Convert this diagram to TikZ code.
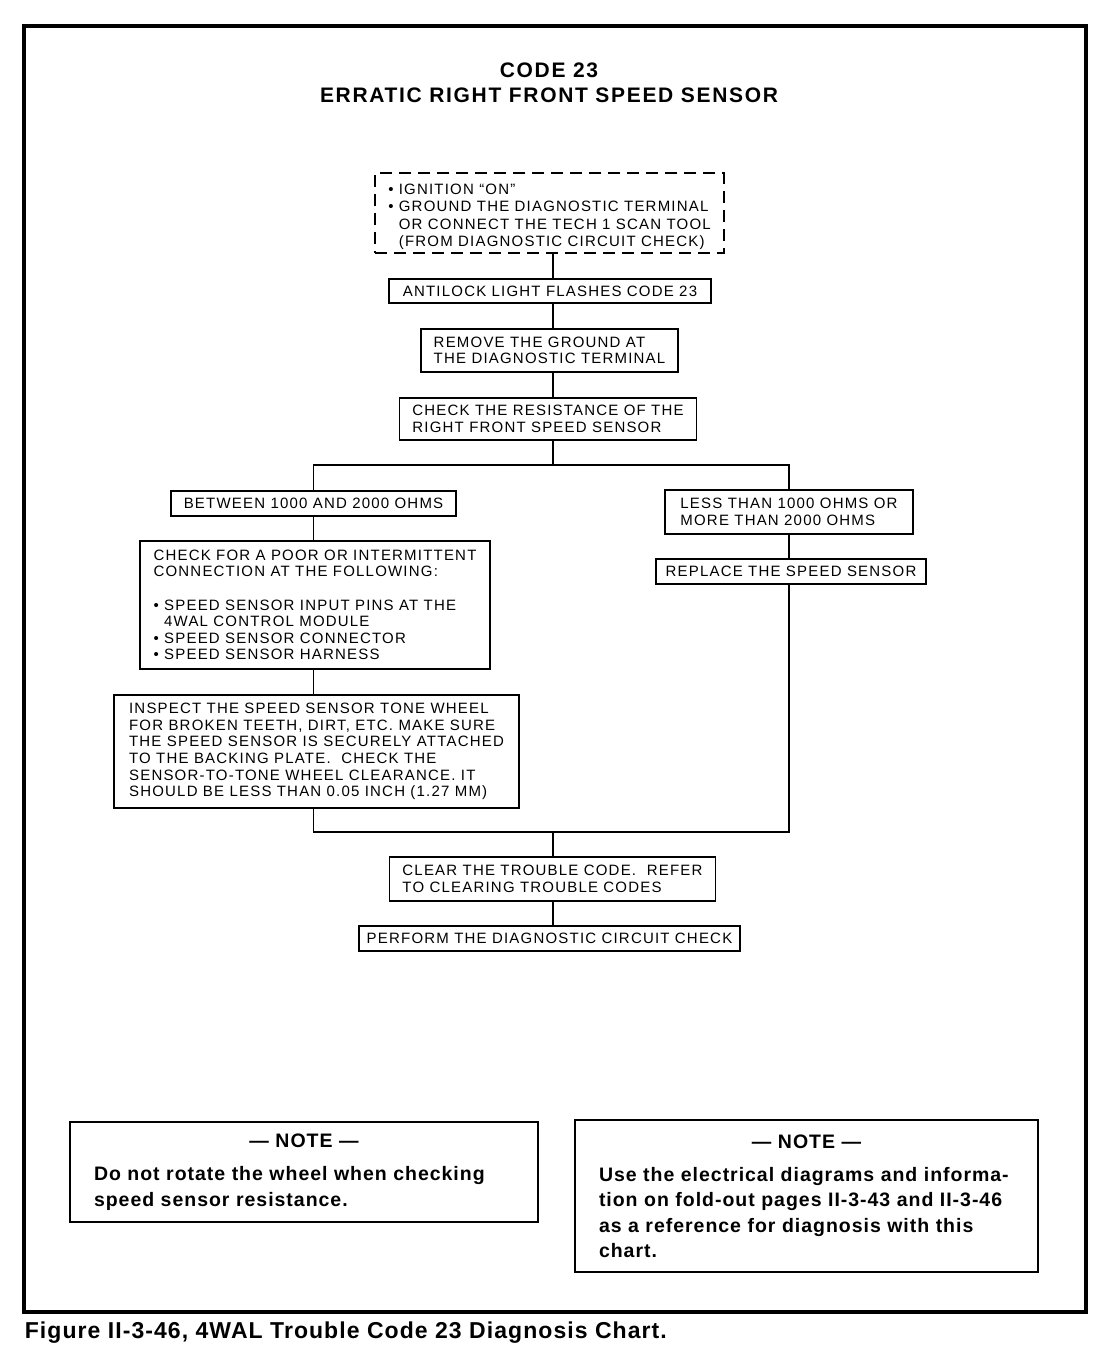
\documentclass[tikz,border=0pt]{standalone}
\usepackage{fontspec}
\setmainfont{Liberation Sans}
\newfontfamily\chartfont[LetterSpace=8]{Liberation Sans}
\newfontfamily\notefont[LetterSpace=5]{Liberation Sans}
\newfontfamily\titlefont[LetterSpace=8]{Liberation Sans}
\newfontfamily\capfont[LetterSpace=4.6]{Liberation Sans}
\usepackage{tikz}
\usetikzlibrary{calc}
\tikzset{
	box/.style =
    {
			draw,
			line width = 1.8pt,
			align = left,
			inner xsep = 13pt,
			inner ysep = 3pt,
			font = \chartfont\fontsize{15}{16.6}\selectfont
    }
}

\begin{document}
\begin{tikzpicture}[x=1pt, y=-1pt, line width=1.8pt]
    \useasboundingbox (0,0) rectangle (1104,1360);
    \tikzset{note box/.style={draw,line width=1.5pt,align=left,inner xsep=24pt,font=\notefont\bfseries\fontsize{19.5}{25.3}\selectfont}}
    % Frame and title
    \draw [line width=3.5pt] (24,26) rectangle (1086,1312);
    \node (title) at (549,83) [align=center, font=\titlefont\bfseries\fontsize{21}{24.5}\selectfont]
        {CODE 23\\ERRATIC RIGHT FRONT SPEED SENSOR};

    % Nodes
    \node (setup) at (549.5,213) [box, dashed, dash pattern=on 12pt off 7pt, line width=2.4pt, minimum width=347pt, minimum height=80pt,
        font=\chartfont\fontsize{15}{17.3}\selectfont]
        {\rule{0pt}{18pt}• IGNITION “ON”\\• GROUND THE DIAGNOSTIC TERMINAL\\\phantom{• }OR CONNECT THE TECH 1 SCAN TOOL\\\phantom{• }(FROM DIAGNOSTIC CIRCUIT CHECK)};
    \node (flash) at (550,291) [box, minimum width=322pt, minimum height=24pt] {ANTILOCK LIGHT FLASHES CODE 23};
    \node (remove_gnd) at (549.5,350.5) [box, minimum width=255pt, minimum height=43pt]
        {REMOVE THE GROUND AT\\THE DIAGNOSTIC TERMINAL};
    \node (check_res) at (548,419) [box, minimum width=296pt, minimum height=42pt]
        {CHECK THE RESISTANCE OF THE\\RIGHT FRONT SPEED SENSOR};
    \node (ok_range) at (313.5,503.5) [box, minimum width=285pt, minimum height=25pt] {BETWEEN 1000 AND 2000 OHMS};
    \node (check_conn) at (315,605) [box, minimum width=350pt, minimum height=128pt]
        {CHECK FOR A POOR OR INTERMITTENT\\CONNECTION AT THE FOLLOWING:\\[16.6pt]
         • SPEED SENSOR INPUT PINS AT THE\\\phantom{• }4WAL CONTROL MODULE\\
         • SPEED SENSOR CONNECTOR\\• SPEED SENSOR HARNESS};
    \node (inspect) at (316.5,751.5) [box, minimum width=405pt, minimum height=113pt]
        {INSPECT THE SPEED SENSOR TONE WHEEL\\FOR BROKEN TEETH, DIRT, ETC. MAKE SURE\\
         THE SPEED SENSOR IS SECURELY ATTACHED\\TO THE BACKING PLATE.\ \ CHECK THE\\
         SENSOR-TO-TONE WHEEL CLEARANCE. IT\\SHOULD BE LESS THAN 0.05 INCH (1.27 MM)};
    \node (bad_range) at (789,512) [box, minimum width=248pt, minimum height=44pt]
        {LESS THAN 1000 OHMS OR\\MORE THAN 2000 OHMS};
    \node (replace) at (791,571.5) [box, inner xsep=9pt, minimum width=270pt, minimum height=25pt] {REPLACE THE SPEED SENSOR};
    \node (clear_code) at (552.5,879) [box, minimum width=325pt, minimum height=44pt]
        {CLEAR THE TROUBLE CODE.\ \ REFER\\TO CLEARING TROUBLE CODES};
    \node (perform) at (549.5,938.5) [box, inner xsep=7pt, minimum width=381pt, minimum height=25pt] {PERFORM THE DIAGNOSTIC CIRCUIT CHECK};
    \coordinate (split) at (553,465);
    \coordinate (merge) at (553,832);

    % Notes
    \node (note_left) at (304,1172) [note box, text width=420pt, minimum height=100pt]
        {\makebox[\linewidth]{— NOTE —}\\[8pt]
         Do not rotate the wheel when checking\\speed sensor resistance.};
    \node (note_right) at (806.5,1196) [note box, text width=415pt, minimum height=152pt]
        {\makebox[\linewidth]{— NOTE —}\\[8pt]
         Use the electrical diagrams and informa-\\tion on fold-out pages II-3-43 and II-3-46\\
         as a reference for diagnosis with this\\chart.};
    \node (caption) at (24,1333) [anchor=west, inner sep=0pt, font=\capfont\bfseries\fontsize{23}{26}\selectfont]
        {Figure II-3-46, 4WAL Trouble Code 23 Diagnosis Chart.};

    % Lines
    \draw (setup.south -| split) -- (flash.north -| split);
    \draw (flash.south -| split) -- (remove_gnd.north -| split);
    \draw (remove_gnd.south -| split) -- (check_res.north -| split);
    \draw (check_res.south -| split) -- (split);
    \draw (ok_range.north) |- (split) -| (bad_range.north);
    \draw (ok_range.south) -- (ok_range.south |- check_conn.north);
    \draw (check_conn.south -| ok_range) -- (inspect.north -| ok_range);
    \draw (bad_range.south) -- (bad_range.south |- replace.north);
    \draw (inspect.south -| ok_range) |- (merge) -| (replace.south -| bad_range);
    \draw (merge) -- (clear_code.north -| merge);
    \draw (clear_code.south -| merge) -- (perform.north -| merge);
\end{tikzpicture}
\end{document}
